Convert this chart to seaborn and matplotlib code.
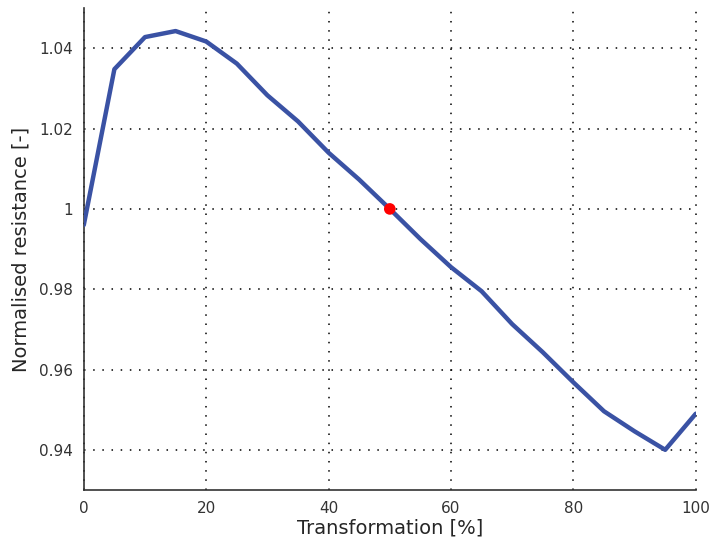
import matplotlib
matplotlib.use("Agg")
import matplotlib.pyplot as plt
import seaborn as sns
import pandas as pd

transformation = [0, 5, 10, 15, 20, 25, 30, 35, 40, 45, 50, 55, 60, 65, 70, 75, 80, 85, 90, 95, 100]
resistance = [0.996, 1.0348, 1.0428, 1.0443, 1.0417, 1.0362, 1.0283, 1.0218, 1.0140, 1.0073, 1.0000,
              0.9925, 0.9855, 0.9795, 0.9713, 0.9643, 0.9568, 0.9496, 0.9446, 0.9400, 0.9490]
marker_x = [50]
marker_y = [1.0]
xticks = [0, 20, 40, 60, 80, 100]
yticks = [0.94, 0.96, 0.98, 1.00, 1.02, 1.04]
yticklabels = ["0.94", "0.96", "0.98", "1", "1.02", "1.04"]

sns.set_theme(style="white")
plt.rcParams['font.family'] = ['DejaVu Sans']

df = pd.DataFrame({"x": transformation, "y": resistance})
fig = plt.figure(figsize=(7.1, 5.45), dpi=100)
ax = fig.add_axes([0.118, 0.101, 0.862, 0.884])

sns.lineplot(data=df, x="x", y="y", ax=ax, color="#3a52a4", linewidth=3.2, zorder=3)
sns.scatterplot(x=marker_x, y=marker_y, ax=ax, color="#ff0000", s=70, edgecolor="none", zorder=4)

ax.set_xlim(0, 100)
ax.set_ylim(0.93, 1.05)
ax.set_xticks(xticks)
ax.set_yticks(yticks)
ax.set_yticklabels(yticklabels)
ax.grid(True, color="black", linestyle=(0, (1, 5)), linewidth=1.1)
for line in ax.get_xgridlines() + ax.get_ygridlines():
    line.set_clip_on(False)
for s in ["top", "right"]:
    ax.spines[s].set_visible(False)
for s in ["left", "bottom"]:
    ax.spines[s].set_color("#333333")
    ax.spines[s].set_linewidth(1.2)
ax.tick_params(direction="in", length=4, width=1, colors="#333333", labelsize=11, pad=8)
ax.set_xlabel("Transformation [%]", fontsize=14, labelpad=2)
ax.set_ylabel("Normalised resistance [-]", fontsize=14, labelpad=6)

fig.savefig("out.png", dpi=100)
